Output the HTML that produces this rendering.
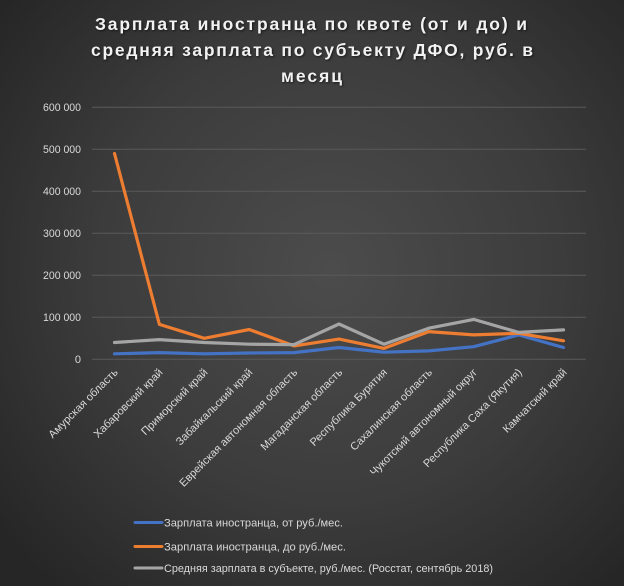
<!DOCTYPE html>
<html><head><meta charset="utf-8">
<style>
html,body{margin:0;padding:0;width:624px;height:586px;overflow:hidden;background:#333;}
svg{display:block;}
text{font-family:"Liberation Sans","DejaVu Sans",sans-serif;}
.t{font-weight:bold;font-size:17.5px;fill:#f2f2f2;text-shadow:1px 1px 2px rgba(0,0,0,0.6);}
.y{font-size:11px;fill:#d9d9d9;}
.c{font-size:11px;fill:#d9d9d9;}
.l{font-size:11px;fill:#d9d9d9;}
</style></head>
<body>
<svg width="624" height="586" viewBox="0 0 624 586" xmlns="http://www.w3.org/2000/svg">
<defs>
<radialGradient id="bg" cx="330" cy="270" r="420" gradientUnits="userSpaceOnUse">
<stop offset="0" stop-color="#4c4c4c"/>
<stop offset="0.55" stop-color="#3c3c3c"/>
<stop offset="1" stop-color="#262626"/>
</radialGradient>
</defs>
<rect x="0" y="0" width="624" height="586" fill="url(#bg)"/>

<text class="t" x="311" y="30" text-anchor="middle" textLength="432" lengthAdjust="spacing">Зарплата  иностранца  по квоте (от и до) и</text>
<text class="t" x="312" y="56" text-anchor="middle" textLength="442" lengthAdjust="spacing">средняя  зарплата  по субъекту ДФО, руб. в</text>
<text class="t" x="311.5" y="82" text-anchor="middle" textLength="61" lengthAdjust="spacing">месяц</text>

<g stroke="#5a5a5a" stroke-width="1">
<line x1="92" y1="107.3" x2="586" y2="107.3"/>
<line x1="92" y1="149.3" x2="586" y2="149.3"/>
<line x1="92" y1="191.3" x2="586" y2="191.3"/>
<line x1="92" y1="233.3" x2="586" y2="233.3"/>
<line x1="92" y1="275.3" x2="586" y2="275.3"/>
<line x1="92" y1="317.3" x2="586" y2="317.3"/>
<line x1="92" y1="359.3" x2="586" y2="359.3"/>
</g>

<g class="y" text-anchor="end">
<text x="81" y="111" textLength="38" lengthAdjust="spacingAndGlyphs">600 000</text>
<text x="81" y="153" textLength="38" lengthAdjust="spacingAndGlyphs">500 000</text>
<text x="81" y="195" textLength="38" lengthAdjust="spacingAndGlyphs">400 000</text>
<text x="81" y="237" textLength="38" lengthAdjust="spacingAndGlyphs">300 000</text>
<text x="81" y="279" textLength="38" lengthAdjust="spacingAndGlyphs">200 000</text>
<text x="81" y="321" textLength="38" lengthAdjust="spacingAndGlyphs">100 000</text>
<text x="81" y="363">0</text>
</g>

<g fill="none" stroke-width="3.2" stroke-linejoin="round" stroke-linecap="round">
<polyline stroke="#4472c4" points="114.5,353.8 159.4,352.6 204.3,353.8 249.2,353.0 294.1,352.6 339,347.5 383.9,352.2 428.8,350.9 473.7,346.7 518.6,334.9 563.5,347.5"/>
<polyline stroke="#ed7d31" points="114.5,153.5 159.4,324.4 204.3,338.3 249.2,329.5 294.1,345.9 339,339.1 383.9,348.4 428.8,331.6 473.7,334.9 518.6,333.3 563.5,340.8"/>
<polyline stroke="#a5a5a5" points="114.5,342.5 159.4,339.6 204.3,342.5 249.2,344.2 294.1,344.6 339,324.0 383.9,344.2 428.8,328.2 473.7,319.4 518.6,332.4 563.5,329.9"/>
</g>

<g class="c" text-anchor="end">
<text transform="translate(118.5,373) rotate(-45)">Амурская область</text>
<text transform="translate(163.4,373) rotate(-45)">Хабаровский край</text>
<text transform="translate(208.3,373) rotate(-45)">Приморский край</text>
<text transform="translate(253.2,373) rotate(-45)">Забайкальский край</text>
<text transform="translate(298.1,373) rotate(-45)">Еврейская автономная область</text>
<text transform="translate(343,373) rotate(-45)">Магаданская область</text>
<text transform="translate(387.9,373) rotate(-45)">Республика Бурятия</text>
<text transform="translate(432.8,373) rotate(-45)">Сахалинская область</text>
<text transform="translate(477.7,373) rotate(-45)">Чукотский автономный округ</text>
<text transform="translate(522.6,373) rotate(-45)">Республика Саха (Якутия)</text>
<text transform="translate(567.5,373) rotate(-45)">Камчатский край</text>
</g>

<g stroke-width="3" stroke-linecap="round">
<line x1="135" y1="522.5" x2="162" y2="522.5" stroke="#4472c4"/>
<line x1="135" y1="546.5" x2="162" y2="546.5" stroke="#ed7d31"/>
<line x1="135" y1="568" x2="162" y2="568" stroke="#a5a5a5"/>
</g>
<g class="l">
<text x="164" y="526.5" textLength="179" lengthAdjust="spacingAndGlyphs">Зарплата иностранца, от руб./мес.</text>
<text x="164" y="550.5" textLength="182" lengthAdjust="spacingAndGlyphs">Зарплата иностранца, до руб./мес.</text>
<text x="164" y="572" textLength="329" lengthAdjust="spacingAndGlyphs">Средняя зарплата в субъекте, руб./мес. (Росстат, сентябрь 2018)</text>
</g>
</svg>
</body></html>
